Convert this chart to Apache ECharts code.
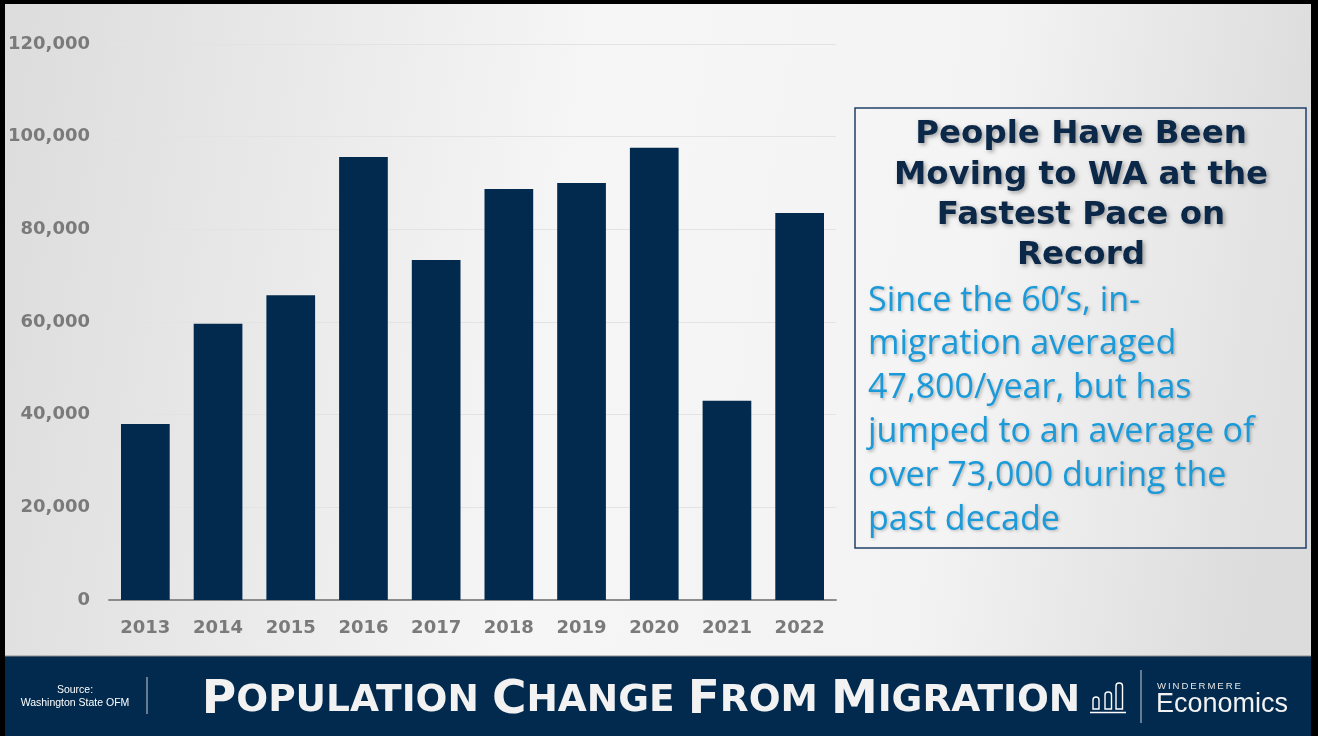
<!DOCTYPE html>
<html>
<head>
<meta charset="utf-8">
<script src="https://cdn.jsdelivr.net/npm/echarts@6/dist/echarts.min.js"></script>
<style>
html,body{margin:0;padding:0;background:#000;}
#main{width:1318px;height:736px;}
</style>
</head>
<body>
<div id="main"></div>
<script>
const categories = ['2013','2014','2015','2016','2017','2018','2019','2020','2021','2022'];
const migration = [38000, 59600, 65800, 95600, 73400, 88700, 90000, 97600, 43000, 83500];
const yMax = 120000;
const yStep = 20000;
const headlineLines = ['People Have Been', 'Moving to WA at the', 'Fastest Pace on', 'Record'];
const bodyLines = ['Since the 60\u2019s, in-', 'migration averaged', '47,800/year, but has', 'jumped to an average of', 'over 73,000 during the', 'past decade'];
const titleWords = ['Population', 'Change', 'From', 'Migration'];
const sourceLines = ['Source:', 'Washington State OFM'];

const WIDE = '"DejaVu Sans", "Open Sans", sans-serif';
const BODY = '"Open Sans", "Lato", sans-serif';
const NAVY = '#022a4e';

const chart = echarts.init(document.getElementById('main'), null, {renderer: 'canvas'});

let titleStr = '';
titleWords.forEach((w, i) => {
  titleStr += '{big|' + w[0].toUpperCase() + '}{small|' + w.slice(1).toUpperCase() + '}';
  if (i < titleWords.length - 1) titleStr += '{small| }';
});

const graphics = [
  {type: 'rect', z: -10, shape: {x: 5, y: 4, width: 1306, height: 652},
   style: {fill: new echarts.graphic.LinearGradient(0, 0, 1, 0.3, [
     {offset: 0, color: '#dcdcdc'}, {offset: 0.45, color: '#f6f6f6'}, {offset: 0.75, color: '#f3f3f3'}, {offset: 1, color: '#dcdcdc'}])}},
  {type: 'rect', z: -9, shape: {x: 5, y: 656, width: 1306, height: 80}, style: {fill: NAVY}},
  {type: 'line', z: -8, shape: {x1: 5, y1: 656, x2: 1311, y2: 656}, style: {stroke: '#8a8a8a', lineWidth: 1}},
  {type: 'rect', shape: {x: 855, y: 108, width: 451, height: 440},
   style: {fill: 'rgba(255,255,255,0.15)', stroke: '#1f4068', lineWidth: 1.5}},
  {type: 'text', x: 75, y: 690, style: {text: sourceLines[0], font: '10.5px "Liberation Sans", Arial, sans-serif', fill: '#ffffff', align: 'center', verticalAlign: 'middle'}},
  {type: 'text', x: 75, y: 703, style: {text: sourceLines[1], font: '10.5px "Liberation Sans", Arial, sans-serif', fill: '#ffffff', align: 'center', verticalAlign: 'middle'}},
  {type: 'line', shape: {x1: 147, y1: 677, x2: 147, y2: 714}, style: {stroke: '#c8ced6', lineWidth: 1}},
  {type: 'text', x: 641, y: 701, style: {text: titleStr, align: 'center', verticalAlign: 'middle',
    rich: {big: {font: 'bold 47px ' + WIDE, fill: '#f2f2f2'}, small: {font: 'bold 37.5px ' + WIDE, fill: '#f2f2f2'}}}},
  {type: 'rect', shape: {x: 1093, y: 697, width: 6, height: 12, r: [3, 3, 0, 0]}, style: {fill: 'none', stroke: '#fff', lineWidth: 1.4}},
  {type: 'rect', shape: {x: 1105, y: 692, width: 6.5, height: 17, r: [3, 3, 0, 0]}, style: {fill: 'none', stroke: '#fff', lineWidth: 1.4}},
  {type: 'rect', shape: {x: 1116, y: 683, width: 6.5, height: 26, r: [3, 3, 0, 0]}, style: {fill: 'none', stroke: '#fff', lineWidth: 1.4}},
  {type: 'line', shape: {x1: 1090, y1: 712.5, x2: 1126, y2: 712.5}, style: {stroke: '#fff', lineWidth: 1.5}},
  {type: 'line', shape: {x1: 1141, y1: 670, x2: 1141, y2: 723}, style: {stroke: '#c8ced6', lineWidth: 1}},
  {type: 'text', x: 1157, y: 686, style: {text: 'W\u2009I\u2009N\u2009D\u2009E\u2009R\u2009M\u2009E\u2009R\u2009E', font: '9.6px "Liberation Sans", Arial, sans-serif', fill: '#e6e6e6', verticalAlign: 'middle'}},
  {type: 'text', x: 1156, y: 705, style: {text: 'Economics', font: '27px "Liberation Sans", Arial, sans-serif', fill: '#f2f2f2', verticalAlign: 'middle'}}
];

headlineLines.forEach((t, i) => {
  graphics.push({type: 'text', x: 1081, y: 135 + i * 40.3, style: {text: t, font: 'bold 32.5px ' + WIDE, fill: '#0b2849',
    align: 'center', verticalAlign: 'middle', textShadowColor: 'rgba(0,0,0,0.35)', textShadowBlur: 4, textShadowOffsetX: 2, textShadowOffsetY: 2}});
});
bodyLines.forEach((t, i) => {
  graphics.push({type: 'text', x: 868, y: 301 + i * 43.8, style: {text: t, font: '34px ' + BODY, fill: '#1a9ad9',
    align: 'left', verticalAlign: 'middle', textShadowColor: 'rgba(0,0,0,0.25)', textShadowBlur: 3, textShadowOffsetX: 1.5, textShadowOffsetY: 1.5}});
});

chart.setOption({
  backgroundColor: '#000000',
  animation: false,
  grid: {left: 109, right: 482, top: 44, bottom: 136, containLabel: false},
  xAxis: {
    type: 'category', data: categories,
    axisLine: {lineStyle: {color: '#8c8c8c', width: 2}},
    axisTick: {show: false},
    axisLabel: {color: '#7a7a7a', fontFamily: WIDE, fontWeight: 'bold', fontSize: 18, margin: 19}
  },
  yAxis: {
    type: 'value', min: 0, max: yMax, interval: yStep,
    axisLine: {show: false}, axisTick: {show: false},
    splitLine: {lineStyle: {color: '#e3e3e3', width: 1}},
    axisLabel: {color: '#7a7a7a', fontFamily: WIDE, fontWeight: 'bold', fontSize: 18, margin: 19,
      formatter: v => v.toLocaleString('en-US')}
  },
  series: [{
    type: 'bar', data: migration, barWidth: '67%',
    itemStyle: {color: NAVY}
  }],
  graphic: graphics
});
</script>
</body>
</html>
